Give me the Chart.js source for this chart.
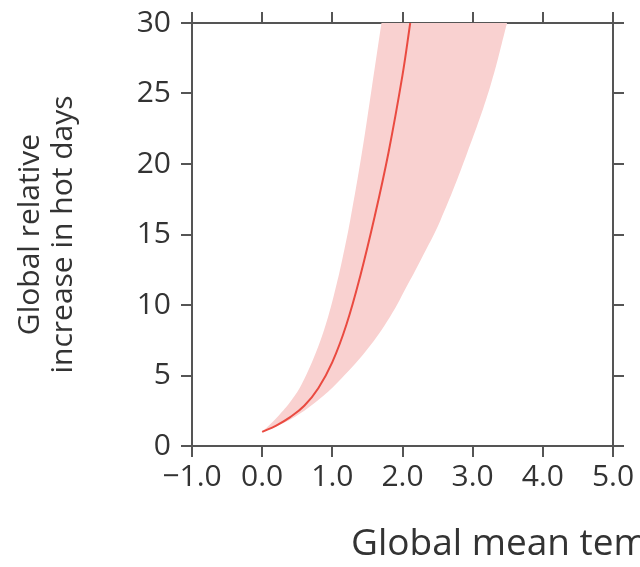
<!DOCTYPE html>
<html><head><meta charset="utf-8">
<script src="https://cdn.jsdelivr.net/npm/chart.js@4"></script>
<style>html,body{margin:0;padding:0;background:#fff;overflow:hidden}#wrap{width:640px;height:567px;position:relative}</style>
</head><body><div id="wrap"><canvas id="c" width="640" height="567"></canvas></div>
<script>
// central estimate (temperature change, relative increase)
const meanTemp = [0, 0.2, 0.4, 0.6, 0.8, 1.0, 1.2, 1.4, 1.6, 1.8, 2.0, 2.11];
const meanIncrease = [1.0, 1.45, 2.05, 2.85, 4.1, 5.95, 8.6, 12.1, 16.2, 20.8, 26.3, 30];
// uncertainty range: upper (left) edge
const upperTemp = [0, 0.22, 0.42, 0.57, 0.78, 0.94, 1.064, 1.14, 1.254, 1.42, 1.565, 1.70];
const upperIncrease = [1.0, 2.08, 3.26, 4.45, 6.81, 9.17, 11.54, 13.2, 16.0, 20.76, 25.5, 30];
// uncertainty range: lower (right) edge
const lowerTemp = [0, 0.185, 0.47, 0.80, 1.064, 1.49, 1.823, 2.084, 2.26, 2.54, 2.92, 3.25, 3.49];
const lowerIncrease = [1.0, 1.37, 2.08, 3.26, 4.45, 6.81, 9.17, 11.54, 13.2, 16.0, 20.76, 25.5, 30];
const xTicks = [-1, 0, 1, 2, 3, 4, 5];
const yTicks = [0, 5, 10, 15, 20, 25, 30];
const yTitle = ['Global relative', 'increase in hot days'];
const xTitle = 'Global mean temperature change (°C)';

const txt = '#333';
const axisCol = '#555';
const fam = "'Open Sans', sans-serif";

const pts = (xs, ys) => xs.map((x, i) => ({x, y: ys[i]}));

const fmt = v => (v < 0 ? '\u2212' : '') + Math.abs(v).toFixed(1);
const grid = {drawOnChartArea: false, drawTicks: true, tickLength: 11, color: axisCol, tickColor: axisCol, lineWidth: 2, tickWidth: 2};
const border = {display: true, color: axisCol, width: 2};

const xTitlePlugin = {
  id: 'xTitle',
  afterDraw(chart) {
    const c = chart.ctx;
    c.save();
    c.font = "37px " + fam;
    c.fillStyle = txt;
    c.textAlign = 'left';
    c.textBaseline = 'alphabetic';
    c.fillText(xTitle, 351, 555);
    c.restore();
  }
};

new Chart(document.getElementById('c'), {
  type: 'line',
  data: {datasets: [
    {label: 'upper', data: pts(upperTemp, upperIncrease), borderWidth: 0, borderColor: 'rgba(0,0,0,0)', pointRadius: 0, fill: false, tension: 0.4, order: 1},
    {label: 'lower', data: pts(lowerTemp, lowerIncrease), borderWidth: 0, borderColor: 'rgba(0,0,0,0)', pointRadius: 0, fill: '-1', backgroundColor: 'rgb(249,209,208)', tension: 0.4, order: 1},
    {label: 'mean', data: pts(meanTemp, meanIncrease), borderColor: '#ea4a40', borderWidth: 2, pointRadius: 0, fill: false, tension: 0.4, order: 0}
  ]},
  options: {
    indexAxis: 'y',
    responsive: false, animation: false, events: [],
    plugins: {legend: {display: false}, tooltip: {enabled: false}},
    layout: {padding: 0},
    scales: {
      x: {type: 'linear', position: 'bottom', min: -1, max: 5,
        afterBuildTicks: s => { s.ticks = xTicks.map(v => ({value: v})); },
        ticks: {callback: v => fmt(v), font: {family: fam, size: 30}, color: txt, padding: 2, maxRotation: 0, autoSkip: false},
        grid, border, afterFit: s => { s.height = 121; }},
      x2: {type: 'linear', position: 'top', min: -1, max: 5,
        afterBuildTicks: s => { s.ticks = xTicks.map(v => ({value: v})); },
        ticks: {display: false}, grid, border, afterFit: s => { s.height = 23; }},
      y: {type: 'linear', position: 'left', min: 0, max: 30,
        afterBuildTicks: s => { s.ticks = yTicks.map(v => ({value: v})); },
        ticks: {font: {family: fam, size: 30, lineHeight: 0.8}, color: txt, padding: 10},
        grid, border,
        title: {display: true, text: yTitle, font: {family: fam, size: 30, lineHeight: 1.1}, color: txt, padding: {top: 14, bottom: 0}},
        afterFit: s => { s.width = 192; }},
      y2: {type: 'linear', position: 'right', min: 0, max: 30,
        afterBuildTicks: s => { s.ticks = yTicks.map(v => ({value: v})); },
        ticks: {display: false}, grid, border, afterFit: s => { s.width = 27; }}
    }
  },
  plugins: [xTitlePlugin]
});
</script></body></html>
